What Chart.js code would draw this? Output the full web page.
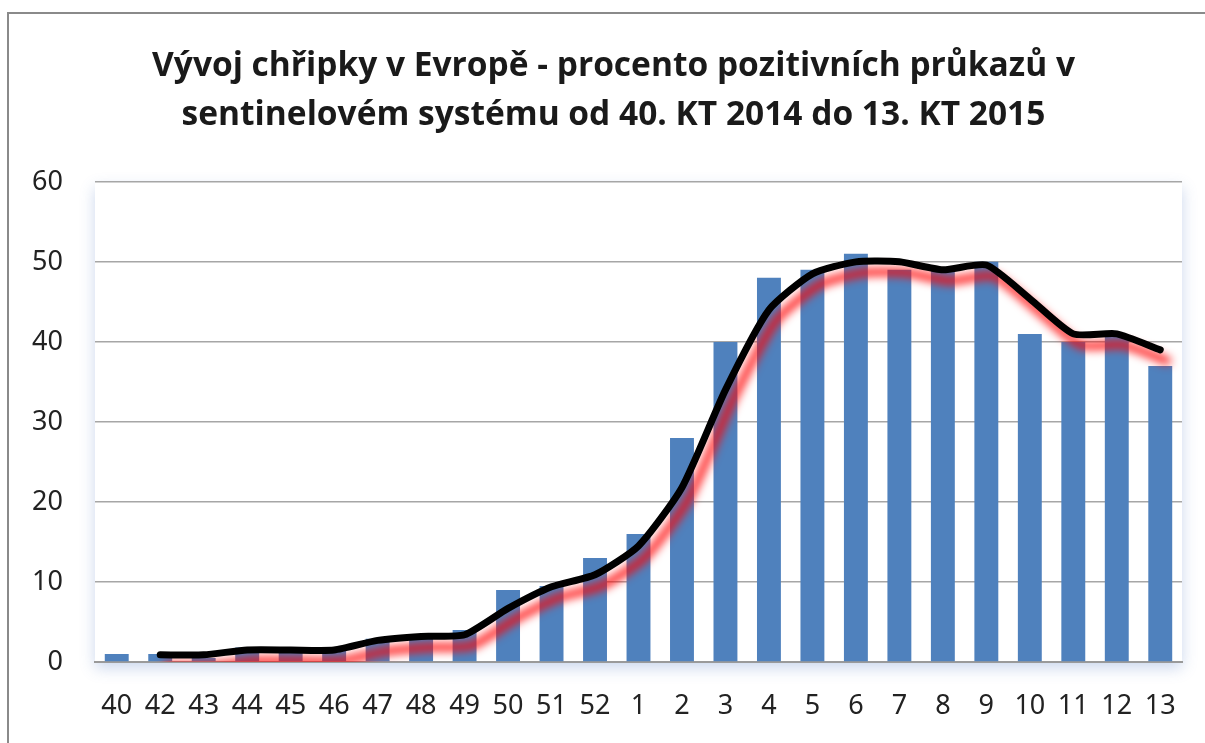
<!DOCTYPE html>
<html>
<head>
<meta charset="utf-8">
<script src="https://cdn.jsdelivr.net/npm/chart.js@4.4.1/dist/chart.umd.min.js"></script>
<style>
  html, body { margin: 0; padding: 0; background: #fff; }
  #wrap { width: 1205px; height: 743px; }
</style>
</head>
<body>
<div id="wrap"><canvas id="chart" width="1205" height="743"></canvas></div>
<script>
/* ===== DATA ===== */
const WEEKS = ["40", "42", "43", "44", "45", "46", "47", "48", "49", "50", "51", "52",
  "1", "2", "3", "4", "5", "6", "7", "8", "9", "10", "11", "12", "13"];

// percent positive samples per week (bars)
const POSITIVE = [1, 1, 0.5, 1.8, 1.5, 1.5, 2.9, 3, 4, 9, 9.5, 13,
  16, 28, 40, 48, 49, 51, 49, 49, 50, 41, 40, 41, 37];

// smoothed trend (black line), no value for week 40
const TREND = [null, 0.9, 0.9, 1.5, 1.5, 1.5, 2.7, 3.2, 3.4, 6.7, 9.4, 10.9,
  14.5, 21.8, 34, 44, 48.5, 50, 50, 49, 49.6, 45.4, 41, 41, 39];

const Y_TICKS = [0, 10, 20, 30, 40, 50, 60];

const TITLE = [
  "Vývoj chřipky v Evropě - procento pozitivních průkazů v",
  "sentinelovém systému od 40. KT 2014 do 13. KT 2015",
];

/* ===== PLUGINS ===== */
// frame lines + soft shadow behind plot area
const framePlugin = {
  id: "frame",
  beforeDraw(chart) {
    const { ctx, chartArea: a } = chart;
    ctx.save();
    ctx.strokeStyle = "#8a8a8a";
    ctx.lineWidth = 2;
    ctx.beginPath();
    ctx.moveTo(8, 743);
    ctx.lineTo(8, 13);
    ctx.lineTo(1205, 13);
    ctx.stroke();

    ctx.shadowColor = "rgba(70,110,190,0.28)";
    ctx.shadowBlur = 14;
    ctx.shadowOffsetY = 6;
    ctx.fillStyle = "#fff";
    ctx.fillRect(a.left, a.top, a.right - a.left, a.bottom - a.top);
    ctx.restore();
  },
};

// red glow under the trend line
const glowPlugin = {
  id: "glow",
  beforeDatasetDraw(chart, args) {
    if (args.index !== 1) return;
    const ctx = chart.ctx;
    ctx.save();
    ctx.shadowColor = "rgba(255,0,0,1)";
    ctx.shadowBlur = 10;
    ctx.shadowOffsetX = 7;
    ctx.shadowOffsetY = 11;
  },
  afterDatasetDraw(chart, args) {
    if (args.index !== 1) return;
    chart.ctx.restore();
  },
};

/* ===== CHART ===== */
new Chart(document.getElementById("chart"), {
  data: {
    labels: WEEKS,
    datasets: [
      {
        type: "bar",
        data: POSITIVE,
        backgroundColor: "#4f81bd",
        barPercentage: 0.55,
        categoryPercentage: 1,
        order: 2,
      },
      {
        type: "line",
        data: TREND,
        borderColor: "#000",
        borderWidth: 7,
        borderCapStyle: "round",
        borderJoinStyle: "round",
        tension: 0.2,
        pointRadius: 0,
        order: 1,
      },
    ],
  },
  plugins: [framePlugin, glowPlugin],
  options: {
    responsive: false,
    animation: false,
    layout: { padding: { top: 42, left: 22, right: 0, bottom: 0 } },
    plugins: {
      legend: { display: false },
      tooltip: { enabled: false },
      title: {
        display: true,
        text: TITLE,
        color: "#1a1a1a",
        font: { family: "Open Sans", size: 33.5, weight: "bold", lineHeight: 1.46 },
        padding: { top: 0, bottom: 42 },
      },
    },
    scales: {
      x: {
        grid: { display: false, drawTicks: false },
        border: { color: "#9a9a9a", width: 2 },
        afterFit: (axis) => { axis.height = 81; },
        ticks: {
          color: "#222",
          font: { family: "Noto Sans", size: 27 },
          padding: 28,
          maxRotation: 0,
          autoSkip: false,
        },
      },
      y: {
        min: 0,
        max: 60,
        afterBuildTicks: (axis) => {
          axis.ticks = Y_TICKS.map((v) => ({ value: v }));
        },
        afterFit: (axis) => { axis.width = 73; },
        grid: { color: "#a6a6a6", lineWidth: 1.5, drawTicks: false },
        border: { display: false },
        ticks: {
          color: "#222",
          font: { family: "Noto Sans", size: 27 },
          padding: 32,
        },
      },
      // empty right gutter so the plot ends where the reference does
      yRight: {
        position: "right",
        min: 0,
        max: 60,
        afterFit: (axis) => { axis.width = 23; },
        grid: { display: false, drawTicks: false },
        border: { display: false },
        ticks: { display: false },
      },
    },
  },
});
</script>
</body>
</html>
